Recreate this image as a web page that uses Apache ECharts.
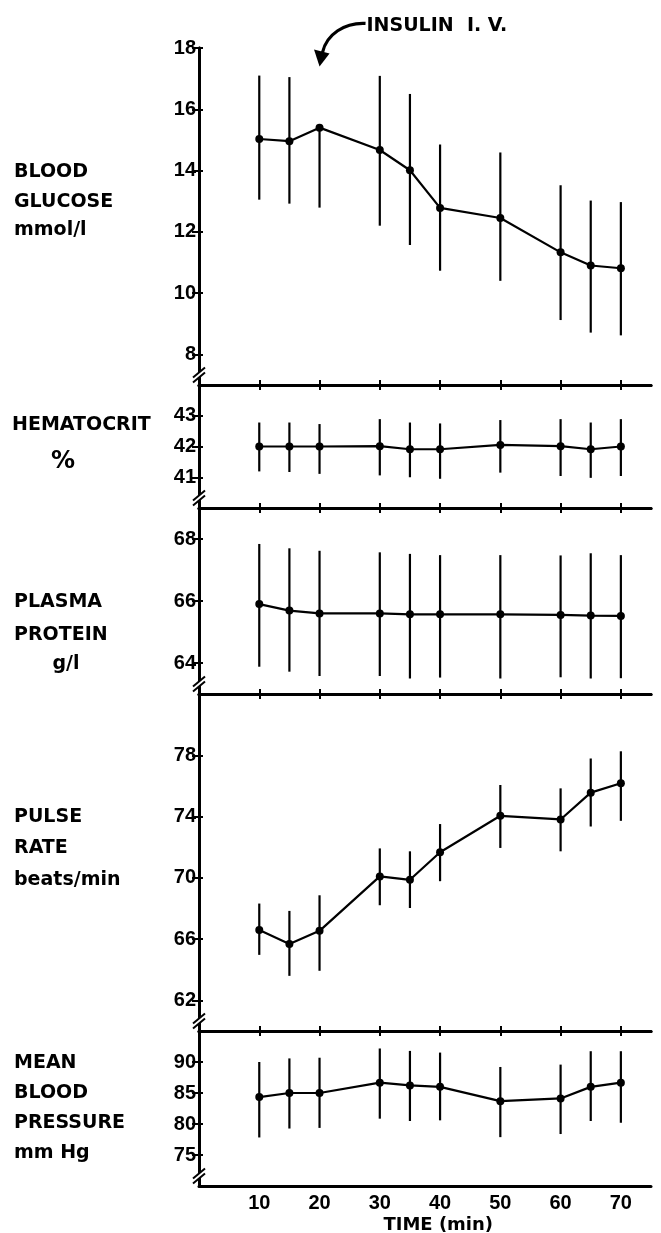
<!DOCTYPE html>
<html>
<head>
<meta charset="utf-8">
<script src="https://cdn.jsdelivr.net/npm/echarts@6/dist/echarts.min.js"></script>
<style>
html, body { margin: 0; padding: 0; background: #fff; }
#chart { width: 661px; height: 1233px; }
</style>
</head>
<body>
<div id="chart"></div>
<script>
var times = [10, 15, 20, 30, 35, 40, 50, 60, 65, 70];
var xTicks = [10, 20, 30, 40, 50, 60, 70];

var glucoseMean = [15.03, 14.96, 15.4, 14.67, 14.01, 12.78, 12.45, 11.33, 10.9, 10.81];
var glucoseHigh = [17.1, 17.05, 15.4, 17.09, 16.5, 14.85, 14.59, 13.52, 13.02, 12.97];
var glucoseLow = [13.05, 12.92, 12.79, 12.2, 11.57, 10.73, 10.4, 9.12, 8.71, 8.62];
var glucoseTicks = [8, 10, 12, 14, 16, 18];

var hctMean = [42.0, 42.0, 42.0, 42.01, 41.91, 41.91, 42.05, 42.01, 41.91, 42.0];
var hctHigh = [42.78, 42.78, 42.73, 42.89, 42.78, 42.75, 42.86, 42.89, 42.78, 42.89];
var hctLow = [41.19, 41.17, 41.11, 41.06, 41.0, 40.95, 41.15, 41.04, 40.98, 41.04];
var hctTicks = [41, 42, 43];

var proteinMean = [65.9, 65.69, 65.6, 65.6, 65.57, 65.57, 65.57, 65.55, 65.53, 65.52];
var proteinHigh = [67.84, 67.7, 67.62, 67.57, 67.52, 67.48, 67.48, 67.47, 67.54, 67.48];
var proteinLow = [63.88, 63.72, 63.58, 63.58, 63.5, 63.53, 63.5, 63.54, 63.5, 63.51];
var proteinTicks = [64, 66, 68];

var pulseMean = [66.59, 65.68, 66.54, 70.09, 69.87, 71.67, 74.05, 73.81, 75.56, 76.17];
var pulseHigh = [68.32, 67.84, 68.86, 71.92, 71.73, 73.51, 76.06, 75.84, 77.79, 78.26];
var pulseLow = [64.97, 63.6, 63.93, 68.21, 68.03, 69.78, 71.95, 71.73, 73.35, 73.72];
var pulseTicks = [62, 66, 70, 74, 78];

var bpMean = [84.34, 85.0, 85.0, 86.66, 86.22, 85.99, 83.68, 84.12, 85.99, 86.66];
var bpHigh = [90.0, 90.58, 90.69, 92.18, 91.79, 91.52, 89.2, 89.58, 91.74, 91.74];
var bpLow = [77.83, 79.27, 79.37, 80.86, 80.48, 80.59, 77.88, 78.38, 80.48, 80.2];
var bpTicks = [75, 80, 85, 90];

var FONT = '"DejaVu Sans", sans-serif';
var NUM_FONT = '"Liberation Sans", Arial, sans-serif';

// one entry per stacked panel
var panels = [
    { mean: glucoseMean, high: glucoseHigh, low: glucoseLow, ticks: glucoseTicks, min: 7, max: 18, top: 48, height: 337 },
    { mean: hctMean, high: hctHigh, low: hctLow, ticks: hctTicks, min: 40, max: 44, top: 385, height: 123 },
    { mean: proteinMean, high: proteinHigh, low: proteinLow, ticks: proteinTicks, min: 63, max: 69, top: 508, height: 186 },
    { mean: pulseMean, high: pulseHigh, low: pulseLow, ticks: pulseTicks, min: 60, max: 82, top: 694, height: 337 },
    { mean: bpMean, high: bpHigh, low: bpLow, ticks: bpTicks, min: 70, max: 95, top: 1031, height: 155 }
];

var sideLabels = [
    ['BLOOD', 14, 172], ['GLUCOSE', 14, 202], ['mmol/l', 14, 230],
    ['HEMATOCRIT', 12, 425],
    ['PLASMA', 14, 602], ['PROTEIN', 14, 635],
    ['PULSE', 14, 817], ['RATE', 14, 848], ['beats/min', 14, 880],
    ['MEAN', 14, 1063], ['BLOOD', 14, 1093], ['PRESSURE', 14, 1123], ['mm Hg', 14, 1153]
];

var grids = [], xAxes = [], yAxes = [], series = [];
var last = panels.length - 1;
var AXIS_W = 3;

panels.forEach(function (p, i) {
    grids.push({ left: 199, right: 10, top: p.top, height: p.height });

    // bottom edge of the panel
    xAxes.push({
        type: 'value', gridIndex: i, position: 'bottom', min: 0, max: 75,
        axisLine: { show: true, onZero: false, lineStyle: { color: '#000', width: AXIS_W } },
        axisTick: { show: i < last, inside: true, length: 5, customValues: xTicks, lineStyle: { color: '#000', width: 2 } },
        axisLabel: {
            show: i === last, customValues: xTicks, margin: 7,
            color: '#000', fontFamily: NUM_FONT, fontWeight: 'bold', fontSize: 20
        },
        splitLine: { show: false }
    });
    // top edge of the panel (ticks pointing down)
    xAxes.push({
        type: 'value', gridIndex: i, position: 'top', min: 0, max: 75, show: i > 0,
        axisLine: { show: true, onZero: false, lineStyle: { color: '#000', width: AXIS_W } },
        axisTick: { show: true, inside: true, length: 5, customValues: xTicks, lineStyle: { color: '#000', width: 2 } },
        axisLabel: { show: false },
        splitLine: { show: false }
    });

    yAxes.push({
        type: 'value', gridIndex: i, position: 'left', min: p.min, max: p.max,
        axisLine: { show: true, lineStyle: { color: '#000', width: AXIS_W } },
        axisTick: { show: true, length: 7, customValues: p.ticks, lineStyle: { color: '#000', width: 2 } },
        axisLabel: {
            customValues: p.ticks, margin: 3,
            color: '#000', fontFamily: NUM_FONT, fontWeight: 'bold', fontSize: 20
        },
        splitLine: { show: false }
    });
    yAxes.push({
        type: 'value', gridIndex: i, position: 'right', min: p.min, max: p.max,
        axisLine: { show: true, lineStyle: { color: '#000', width: AXIS_W } },
        axisTick: { show: true, length: 4, customValues: p.ticks, lineStyle: { color: '#000', width: 2 } },
        axisLabel: { show: false },
        splitLine: { show: false }
    });

    series.push({
        type: 'custom',
        xAxisIndex: i * 2, yAxisIndex: i * 2,
        data: times.map(function (t, j) { return [t, p.low[j], p.high[j]]; }),
        renderItem: function (params, api) {
            var a = api.coord([api.value(0), api.value(1)]);
            var b = api.coord([api.value(0), api.value(2)]);
            return {
                type: 'line',
                shape: { x1: a[0], y1: a[1], x2: b[0], y2: b[1] },
                style: { stroke: '#000', lineWidth: 2.2 }
            };
        },
        silent: true,
        z: 2
    });
    series.push({
        type: 'line',
        xAxisIndex: i * 2, yAxisIndex: i * 2,
        data: times.map(function (t, j) { return [t, p.mean[j]]; }),
        symbol: 'circle', symbolSize: 8,
        lineStyle: { color: '#000', width: 2.2 },
        itemStyle: { color: '#000' },
        silent: true,
        z: 3
    });
});

var chart = echarts.init(document.getElementById('chart'), null, { renderer: 'canvas' });
chart.setOption({
    backgroundColor: '#fff',
    animation: false,
    grid: grids,
    xAxis: xAxes,
    yAxis: yAxes,
    series: series
});

// annotations: side labels, break marks, insulin arrow, time caption
var graphics = [];
sideLabels.forEach(function (l) {
    graphics.push({
        type: 'text',
        style: { text: l[0], x: l[1], y: l[2], fill: '#000', font: 'bold 19px ' + FONT, verticalAlign: 'middle' }
    });
});
graphics.push({ type: 'text', style: { text: '%', x: 63, y: 462, fill: '#000', font: 'bold 24px ' + FONT, align: 'center', verticalAlign: 'middle' } });
graphics.push({ type: 'text', style: { text: 'g/l', x: 66, y: 664, fill: '#000', font: 'bold 19px ' + FONT, align: 'center', verticalAlign: 'middle' } });

panels.forEach(function (p, i) {
    var c = chart.convertToPixel({ xAxisIndex: i * 2, yAxisIndex: i * 2 }, [0, p.min]);
    var cx = c[0], cy = c[1] - 10;
    graphics.push({
        type: 'polygon',
        shape: { points: [[cx - 6, cy + 2], [cx + 6, cy - 8], [cx + 6, cy - 2], [cx - 6, cy + 8]] },
        style: { fill: '#fff' }, z: 10
    });
    [-2.5, 2.5].forEach(function (d) {
        graphics.push({
            type: 'line',
            shape: { x1: cx - 6, y1: cy + 5 + d, x2: cx + 6, y2: cy - 5 + d },
            style: { stroke: '#000', lineWidth: 2 }, z: 11
        });
    });
});

var tip = chart.convertToPixel({ xAxisIndex: 0, yAxisIndex: 0 }, [20, 17.4]);
var tx = tip[0], ty = tip[1];
graphics.push({
    type: 'bezierCurve',
    shape: { x1: tx + 46, y1: ty - 43, cpx1: tx + 25, cpy1: ty - 44, cpx2: tx + 7, cpy2: ty - 32, x2: tx + 3, y2: ty - 14 },
    style: { stroke: '#000', lineWidth: 3.2, fill: null }, z: 10
});
graphics.push({
    type: 'polygon',
    shape: { points: [[tx - 5.5, ty - 17], [tx + 10, ty - 13], [tx, ty]] },
    style: { fill: '#000' }, z: 10
});
graphics.push({
    type: 'text',
    style: { text: 'INSULIN  I. V.', x: tx + 47, y: ty - 40, fill: '#000', font: 'bold 19px ' + FONT, verticalAlign: 'middle' }
});

var tl = chart.convertToPixel({ xAxisIndex: last * 2, yAxisIndex: last * 2 }, [39.7, panels[last].min]);
graphics.push({
    type: 'text',
    style: { text: 'TIME (min)', x: tl[0], y: tl[1] + 39, fill: '#000', font: 'bold 18px ' + FONT, align: 'center', verticalAlign: 'middle' }
});

chart.setOption({ graphic: graphics });
</script>
</body>
</html>
